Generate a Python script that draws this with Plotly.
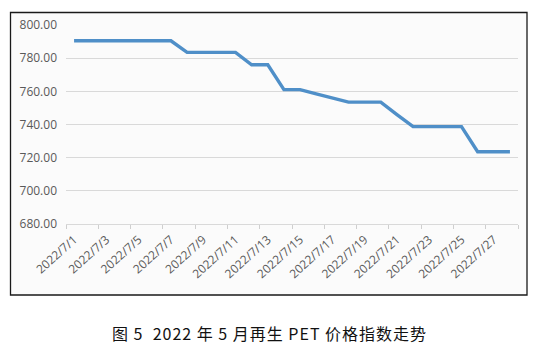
import plotly.graph_objects as go

dates = ["2022/7/1", "2022/7/2", "2022/7/3", "2022/7/4", "2022/7/5", "2022/7/6", "2022/7/7",
         "2022/7/8", "2022/7/9", "2022/7/10", "2022/7/11", "2022/7/12", "2022/7/13", "2022/7/14",
         "2022/7/15", "2022/7/16", "2022/7/17", "2022/7/18", "2022/7/19", "2022/7/20", "2022/7/21",
         "2022/7/22", "2022/7/23", "2022/7/24", "2022/7/25", "2022/7/26", "2022/7/27", "2022/7/28"]
index_values = [790.5, 790.5, 790.5, 790.5, 790.5, 790.5, 790.5,
                783.5, 783.5, 783.5, 783.5, 776.0, 776.0, 761.0,
                761.0, 758.5, 756.0, 753.5, 753.5, 753.5, 746.0,
                738.7, 738.7, 738.7, 738.7, 723.6, 723.6, 723.6]
y_ticks = [680, 700, 720, 740, 760, 780, 800]
caption = "图 5  2022 年 5 月再生 PET 价格指数走势"

W, H = 542, 354
L, R, T, B = 66, 24, 25, 130
pw, ph = W - L - R, H - T - B

def px_x(x):
    return (x - L) / pw

def px_y(y):
    return (H - B - y) / ph

fig = go.Figure()
fig.add_trace(go.Scatter(
    x=dates, y=index_values, mode="lines",
    line=dict(color="#4f8fc8", width=3.4),
    hoverinfo="x+y", showlegend=False,
))

fig.add_shape(type="rect", xref="paper", yref="paper",
              x0=px_x(10.5), x1=px_x(527), y0=px_y(295), y1=px_y(12.5),
              line=dict(color="#1a1a1a", width=1.3), fillcolor="#fbfbfb", layer="below")

fig.add_annotation(text=caption, xref="paper", yref="paper",
                   x=px_x(269), y=px_y(333), showarrow=False,
                   xanchor="center", yanchor="middle",
                   font=dict(family="Noto Sans CJK SC", size=16, color="#111111"))

fig.update_layout(
    width=W, height=H,
    margin=dict(l=L, r=R, t=T, b=B, pad=0),
    paper_bgcolor="white", plot_bgcolor="rgba(0,0,0,0)",
    font=dict(family="Open Sans", color="#595959"),
)
fig.update_xaxes(
    type="category", tickmode="linear", tick0=0, dtick=2,
    tickson="boundaries", ticks="outside", ticklen=4, tickcolor="#cfcfcf",
    tickangle=-42, tickfont=dict(size=12, color="#595959"), ticklabelstandoff=3,
    showgrid=False, showline=True, linecolor="#d9d9d9", linewidth=1,
    range=[-0.5, len(dates) - 0.5], zeroline=False,
)
fig.update_yaxes(
    range=[680, 800], tickvals=y_ticks, ticktext=[f"{v:.2f}" for v in y_ticks],
    showgrid=True, gridcolor="#d9d9d9", gridwidth=1, zeroline=False,
    tickfont=dict(size=12, color="#595959"), ticks="", ticklabelstandoff=8,
    showline=False,
)

post = """
document.querySelectorAll('.annotation-text').forEach(function(e){
  e.style.letterSpacing = '1px';
});
"""

fig.write_html("out.html", post_script=post)
